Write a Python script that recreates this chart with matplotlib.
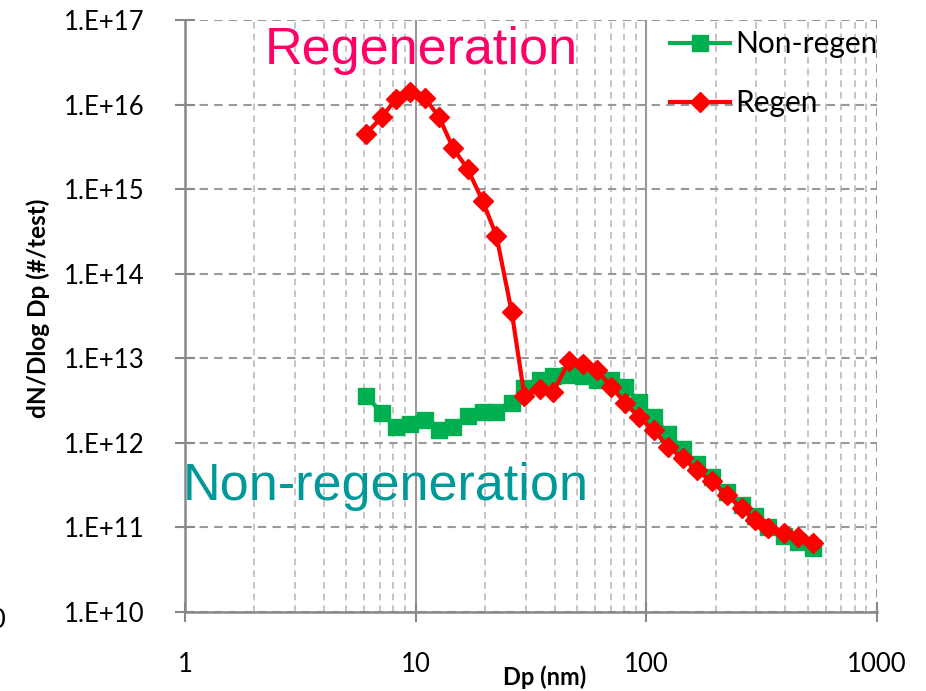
import matplotlib
matplotlib.use("Agg")
import matplotlib.pyplot as plt
from matplotlib.ticker import FixedLocator, FixedFormatter, LogLocator, NullFormatter

# ---- data ----
dp_nm = [6.09, 7.12, 8.21, 9.45, 10.97, 12.6, 14.55, 16.8, 19.5, 22.4, 26.1, 29.6,
         34.6, 39.5, 46.3, 53.3, 61.3, 70.3, 80.8, 92.9, 107.9, 124.5, 143.6, 165.2,
         191.9, 222.8, 258.8, 295.6, 337.6, 394.9, 455.3, 528.9]
non_regen = [3.6e12, 2.28e12, 1.53e12, 1.68e12, 1.87e12, 1.40e12, 1.56e12, 2.05e12,
             2.32e12, 2.32e12, 3.0e12, 4.5e12, 5.6e12, 6.2e12, 6.4e12, 6.2e12,
             5.6e12, 5.6e12, 4.6e12, 3.05e12, 2.0e12, 1.28e12, 8.5e11, 5.65e11,
             3.9e11, 2.64e11, 1.85e11, 1.37e11, 1.02e11, 8.0e10, 6.8e10, 5.7e10]
regen = [4.5e15, 7.1e15, 1.16e16, 1.42e16, 1.19e16, 7.2e15, 3.04e15, 1.73e15,
         7.3e14, 2.8e14, 3.5e13, 3.6e12, 4.3e12, 4.0e12, 9.4e12, 8.6e12,
         7.2e12, 4.6e12, 3.0e12, 2.0e12, 1.40e12, 9.0e11, 6.6e11, 4.8e11,
         3.5e11, 2.43e11, 1.69e11, 1.23e11, 9.8e10, 8.7e10, 7.8e10, 6.5e10]
x_ticks = [1, 10, 100, 1000]
x_tick_labels = ["1", "10", "100", "1000"]
y_ticks = [1e10, 1e11, 1e12, 1e13, 1e14, 1e15, 1e16, 1e17]
y_tick_labels = ["1.E+10", "1.E+11", "1.E+12", "1.E+13", "1.E+14", "1.E+15", "1.E+16", "1.E+17"]
series_names = ["Non-regen", "Regen"]

plt.rcParams['font.family'] = ['Lato', 'DejaVu Sans']

fig = plt.figure(figsize=(9.26, 6.91), dpi=100)
ax = fig.add_axes([185/926, 1-612/691, 692/926, 592/691])

ax.set_xscale('log')
ax.set_yscale('log')
ax.set_xlim(1, 1000)
ax.set_ylim(1e10, 1e17)

ax.plot(dp_nm, non_regen, color='#00B050', lw=3, marker='s', ms=11,
        label=series_names[0], zorder=3)
ax.plot(dp_nm, regen, color='#FF0000', lw=3, marker='D', ms=10.5,
        label=series_names[1], zorder=4)

ax.xaxis.set_major_locator(FixedLocator(x_ticks))
ax.xaxis.set_major_formatter(FixedFormatter(x_tick_labels))
ax.xaxis.set_minor_locator(LogLocator(base=10, subs=range(2, 10)))
ax.xaxis.set_minor_formatter(NullFormatter())
ax.yaxis.set_major_locator(FixedLocator(y_ticks))
ax.yaxis.set_major_formatter(FixedFormatter(y_tick_labels))
ax.yaxis.set_minor_locator(FixedLocator([]))

ax.tick_params(axis='both', which='major', direction='inout', length=14,
               width=1.5, color='#888888', labelsize=18.5)
ax.tick_params(axis='x', which='major', pad=22)
ax.tick_params(axis='y', which='major', pad=22)
ax.tick_params(axis='both', which='minor', length=0)

for s in ['top', 'right']:
    ax.spines[s].set_visible(False)
for s in ['left', 'bottom']:
    ax.spines[s].set_color('#888888')
    ax.spines[s].set_linewidth(1.8)

ax.grid(True, axis='y', which='major', linestyle=(0, (4, 3)), color='#999999', lw=1.5)
ax.grid(True, axis='x', which='major', linestyle='-', color='#999999', lw=1.5)
ax.grid(True, axis='x', which='minor', linestyle=(0, (4, 3)), color='#BBBBBB', lw=1.2)
ax.set_axisbelow(True)
fig.canvas.draw()
xg = ax.get_xgridlines()
xg[-1].set_linestyle((0, (4, 3)))

leg = ax.legend(loc='upper left', bbox_to_anchor=((670-185)/692, 1-(30-20)/592),
                frameon=False, fontsize=21.5, handlelength=2.0, handletextpad=0.2,
                labelspacing=1.05, borderpad=0, borderaxespad=0)

ax.text(0.115, 0.925, "Regeneration", transform=ax.transAxes, color='#FF0066',
        fontsize=37.5, family='Liberation Sans', ha='left', va='baseline')
ax.text(-0.003, 0.19, "Non-regeneration", transform=ax.transAxes, color='#009999',
        fontsize=37.5, family='Liberation Sans', ha='left', va='baseline')

fig.text(545/926, 1-677/691, "Dp (nm)", fontsize=17, fontweight='bold',
         ha='center', va='center')
fig.text(38/926, 1-308/691, "dN/Dlog Dp (#/test)", fontsize=17.5, fontweight='bold',
         ha='center', va='center', rotation=90)
fig.text(-0.012, 1-621/691, "0", fontsize=19.5, ha='left', va='center')

fig.savefig("out.png", dpi=100)
